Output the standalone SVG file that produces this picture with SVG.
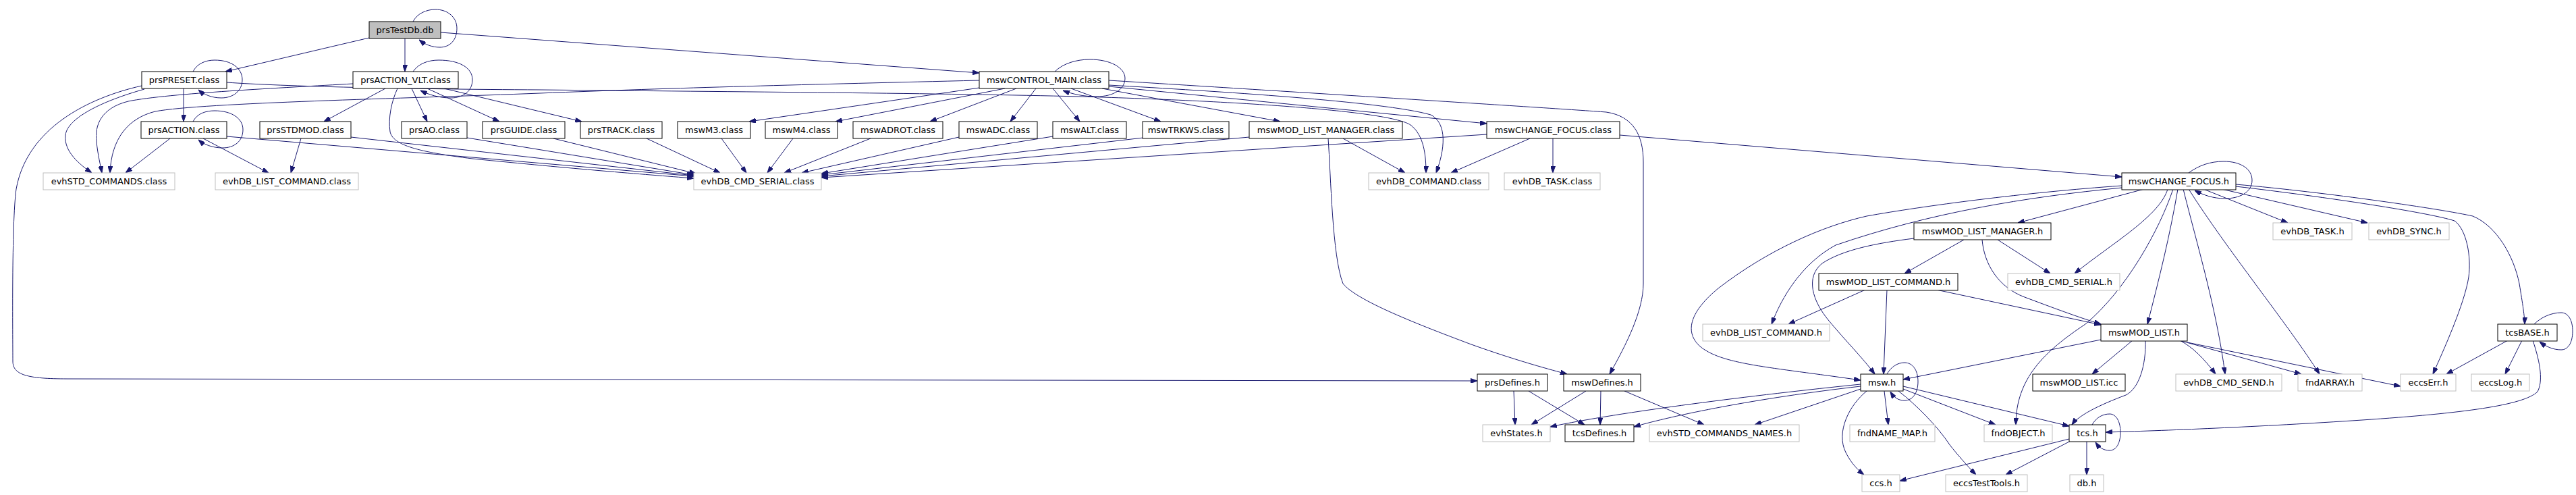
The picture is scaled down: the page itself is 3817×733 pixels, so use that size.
<svg xmlns="http://www.w3.org/2000/svg" width="3817" height="733" viewBox="0 0 3817 733">
<style>
.b{fill:#fff;stroke:#000;stroke-width:1}
.g{fill:#fff;stroke:#bfbfbf;stroke-width:1}
.r{fill:#bfbfbf;stroke:#000;stroke-width:1}
text{font-family:"DejaVu Sans",sans-serif;font-size:13px;text-anchor:middle;fill:#000}
#edges path{fill:none;stroke:#191970;stroke-width:1;marker-end:url(#a)}
</style>
<defs>
<marker id="a" markerWidth="10" markerHeight="7" refX="10" refY="3.5" orient="auto" markerUnits="userSpaceOnUse"><path d="M0,0L10,3.5L0,7z" fill="#191970" stroke="#191970" stroke-width="1"/></marker>
</defs>
<rect width="3817" height="733" fill="#fff"/>
<g id="edges">
<path d="M612,32 C618,20 632,14 645,14 C664,14 677,26 677,42 C677,60 666,70 652,70 C640,70 630,66 621,59"/>
<path d="M547,56 L334,106"/>
<path d="M600,57 L600,106"/>
<path d="M653,48 L1451,108"/>
<path d="M286,106 C292,94 305,89 318,89 C343,89 359,101 359,118 C359,135 345,145 328,145 C314,145 302,140 294,133"/>
<path d="M272,131 L272,180"/>
<path d="M214,132 C150,150 100,175 97,200 C94,225 120,245 136,256"/>
<path d="M210,127 C130,145 40,190 24,280 C17,330 19,500 19,535 C19,555 40,561 100,561 L2189,564"/>
<path d="M336,122 C420,128 600,132 800,133 C1100,136 1400,138 1600,143 C1850,150 2060,165 2090,185 C2110,200 2113,230 2113,256"/>
<path d="M612,106 C620,94 635,89 650,89 C680,89 700,100 700,118 C700,136 685,145 668,145 C650,145 635,140 623,134"/>
<path d="M523,124 C420,130 250,138 190,150 C150,160 140,185 143,210 C145,230 149,245 151,256"/>
<path d="M571,131 L480,180"/>
<path d="M610,131 L633,180"/>
<path d="M633,131 L740,180"/>
<path d="M658,131 L862,180"/>
<path d="M589,131 C580,150 575,175 578,195 C582,215 620,225 700,235 C850,250 950,258 1028,264"/>
<path d="M1563,106 C1575,94 1595,88 1615,88 C1645,88 1667,100 1667,116 C1667,132 1650,143 1625,143 C1605,143 1588,139 1575,134"/>
<path d="M1451,119 C1200,125 1000,130 800,138 C600,146 300,152 230,165 C190,175 165,205 163,256"/>
<path d="M1451,130 L1110,180"/>
<path d="M1489,131 L1238,180"/>
<path d="M1506,131 L1378,180"/>
<path d="M1535,131 L1497,180"/>
<path d="M1560,131 L1600,180"/>
<path d="M1587,131 L1720,180"/>
<path d="M1633,131 L1897,180"/>
<path d="M1643,128 L2203,183"/>
<path d="M1643,126 C1800,135 2050,150 2120,170 C2140,180 2145,210 2128,256"/>
<path d="M1643,119 C1900,135 2300,160 2380,166 C2420,172 2435,200 2435,240 L2435,420 C2435,460 2410,510 2385,554"/>
<path d="M286,180 C292,168 305,164 318,164 C343,164 360,175 360,192 C360,210 346,219 330,219 C315,219 302,214 294,207"/>
<path d="M252,205 L186,256"/>
<path d="M301,205 L398,256"/>
<path d="M336,202 L1028,261"/>
<path d="M446,205 L431,256"/>
<path d="M520,203 L1028,260"/>
<path d="M692,204 L1028,259"/>
<path d="M820,205 L1031,257"/>
<path d="M958,205 L1067,256"/>
<path d="M1069,205 L1106,256"/>
<path d="M1175,205 L1137,256"/>
<path d="M1290,205 L1162,256"/>
<path d="M1421,203 L1188,256"/>
<path d="M1560,202 L1217,257"/>
<path d="M1694,204 L1217,259"/>
<path d="M1851,203 L1217,261"/>
<path d="M2203,199 L1217,263"/>
<path d="M1990,205 L2082,256"/>
<path d="M1968,205 C1972,260 1974,380 1990,420 C2010,445 2100,480 2180,510 C2250,535 2300,548 2322,554"/>
<path d="M2267,205 L2150,256"/>
<path d="M2301,205 L2301,256"/>
<path d="M2400,200 L3144,262"/>
<path d="M3243,256 C3258,245 3275,239 3295,239 C3320,239 3337,250 3337,267 C3337,285 3318,294 3297,294 C3280,294 3265,289 3252,282"/>
<path d="M3177,280 L2990,330"/>
<path d="M3265,280 L3390,330"/>
<path d="M3292,280 L3508,330"/>
<path d="M3313,273 C3450,285 3620,310 3664,320 C3700,335 3725,380 3733,420 C3738,450 3741,470 3741,480"/>
<path d="M3313,276 C3450,292 3600,315 3637,327 C3655,340 3662,380 3658,410 C3652,450 3620,520 3605,554"/>
<path d="M3144,278 C3000,292 2860,315 2720,363 C2670,390 2640,440 2625,480"/>
<path d="M3144,275 C3000,285 2850,305 2766,320 C2700,335 2620,370 2546,427 C2506,460 2495,490 2518,512 C2550,540 2620,543 2757,563"/>
<path d="M3212,280 C3200,320 3130,360 3074,405"/>
<path d="M3227,280 C3215,350 3200,410 3182,480"/>
<path d="M3220,280 C3200,340 3150,430 3090,480 C3030,520 2987,560 2987,629"/>
<path d="M3235,280 C3255,360 3285,460 3297,554"/>
<path d="M3243,280 C3300,370 3390,480 3437,554"/>
<path d="M2910,355 L2822,405"/>
<path d="M2960,355 L3038,405"/>
<path d="M2937,355 C2940,390 2960,425 3000,440 C3040,455 3080,470 3113,480"/>
<path d="M2836,353 C2780,360 2730,370 2700,390 C2675,410 2685,445 2710,475 C2735,505 2760,530 2778,554"/>
<path d="M2764,429 L2650,480"/>
<path d="M2796,429 L2791,554"/>
<path d="M2869,429 L3113,481"/>
<path d="M3113,503 L2820,562"/>
<path d="M3160,504 L3100,554"/>
<path d="M3179,504 C3180,540 3170,575 3150,585 C3110,600 3080,615 3070,629"/>
<path d="M3230,504 C3250,515 3265,530 3283,554"/>
<path d="M3229,504 L3410,554"/>
<path d="M3241,507 L3557,572"/>
<path d="M3755,480 C3765,470 3780,463 3795,463 C3806,463 3812,475 3812,490 C3812,508 3805,518 3795,518 C3783,518 3772,513 3763,506"/>
<path d="M3716,504 L3625,554"/>
<path d="M3737,504 L3712,554"/>
<path d="M3753,504 C3765,540 3768,565 3760,580 C3740,600 3650,612 3500,622 C3350,632 3200,638 3120,640"/>
<path d="M2796,554 C2802,543 2812,537 2822,537 C2834,537 2842,548 2842,565 C2842,582 2834,593 2822,593 C2812,593 2806,588 2801,580"/>
<path d="M2757,569 C2600,585 2400,610 2297,632"/>
<path d="M2757,572 C2600,590 2480,615 2421,632"/>
<path d="M2757,576 L2600,629"/>
<path d="M2792,579 L2798,629"/>
<path d="M2820,576 L2957,629"/>
<path d="M2820,572 L3066,631"/>
<path d="M2766,579 C2740,600 2720,640 2735,670 C2745,690 2758,700 2762,703"/>
<path d="M2813,579 C2840,600 2870,630 2890,660 C2910,685 2925,700 2928,703"/>
<path d="M3100,629 C3106,618 3116,613 3126,613 C3136,613 3142,625 3142,640 C3142,656 3136,667 3126,667 C3116,667 3110,662 3105,655"/>
<path d="M3066,650 L2815,712"/>
<path d="M3068,653 L2972,703"/>
<path d="M3092,653 L3092,703"/>
<path d="M2243,579 L2245,629"/>
<path d="M2265,579 L2348,629"/>
<path d="M2350,579 L2269,629"/>
<path d="M2372,579 L2371,629"/>
<path d="M2407,579 L2525,629"/>
</g>
<g id="prsTestDb_db"><rect class="r" x="547" y="32" width="106" height="25"/><text x="600" y="49">prsTestDb.db</text></g>
<g id="prsPRESET_class"><rect class="b" x="210" y="106" width="126" height="25"/><text x="273" y="123">prsPRESET.class</text></g>
<g id="prsACTION_VLT_class"><rect class="b" x="523" y="106" width="156" height="25"/><text x="601" y="123">prsACTION_VLT.class</text></g>
<g id="mswCONTROL_MAIN_class"><rect class="b" x="1451" y="106" width="192" height="25"/><text x="1547" y="123">mswCONTROL_MAIN.class</text></g>
<g id="prsACTION_class"><rect class="b" x="209" y="180" width="127" height="25"/><text x="272.5" y="197">prsACTION.class</text></g>
<g id="prsSTDMOD_class"><rect class="b" x="385" y="180" width="135" height="25"/><text x="452.5" y="197">prsSTDMOD.class</text></g>
<g id="prsAO_class"><rect class="b" x="595" y="180" width="97" height="25"/><text x="643.5" y="197">prsAO.class</text></g>
<g id="prsGUIDE_class"><rect class="b" x="715" y="180" width="122" height="25"/><text x="776" y="197">prsGUIDE.class</text></g>
<g id="prsTRACK_class"><rect class="b" x="860" y="180" width="121" height="25"/><text x="920.5" y="197">prsTRACK.class</text></g>
<g id="mswM3_class"><rect class="b" x="1004" y="180" width="108" height="25"/><text x="1058" y="197">mswM3.class</text></g>
<g id="mswM4_class"><rect class="b" x="1134" y="180" width="107" height="25"/><text x="1187.5" y="197">mswM4.class</text></g>
<g id="mswADROT_class"><rect class="b" x="1264" y="180" width="133" height="25"/><text x="1330.5" y="197">mswADROT.class</text></g>
<g id="mswADC_class"><rect class="b" x="1421" y="180" width="116" height="25"/><text x="1479" y="197">mswADC.class</text></g>
<g id="mswALT_class"><rect class="b" x="1560" y="180" width="109" height="25"/><text x="1614.5" y="197">mswALT.class</text></g>
<g id="mswTRKWS_class"><rect class="b" x="1693" y="180" width="128" height="25"/><text x="1757" y="197">mswTRKWS.class</text></g>
<g id="mswMOD_LIST_MANAGER_class"><rect class="b" x="1851" y="180" width="227" height="25"/><text x="1964.5" y="197">mswMOD_LIST_MANAGER.class</text></g>
<g id="mswCHANGE_FOCUS_class"><rect class="b" x="2203" y="180" width="197" height="25"/><text x="2301.5" y="197">mswCHANGE_FOCUS.class</text></g>
<g id="evhSTD_COMMANDS_class"><rect class="g" x="64" y="256" width="195" height="25"/><text x="161.5" y="273">evhSTD_COMMANDS.class</text></g>
<g id="evhDB_LIST_COMMAND_class"><rect class="g" x="319" y="256" width="212" height="25"/><text x="425" y="273">evhDB_LIST_COMMAND.class</text></g>
<g id="evhDB_CMD_SERIAL_class"><rect class="g" x="1028" y="256" width="189" height="25"/><text x="1122.5" y="273">evhDB_CMD_SERIAL.class</text></g>
<g id="evhDB_COMMAND_class"><rect class="g" x="2028" y="256" width="178" height="25"/><text x="2117" y="273">evhDB_COMMAND.class</text></g>
<g id="evhDB_TASK_class"><rect class="g" x="2229" y="256" width="142" height="25"/><text x="2300" y="273">evhDB_TASK.class</text></g>
<g id="mswCHANGE_FOCUS_h"><rect class="b" x="3144" y="256" width="169" height="25"/><text x="3228.5" y="273">mswCHANGE_FOCUS.h</text></g>
<g id="mswMOD_LIST_MANAGER_h"><rect class="b" x="2836" y="330" width="203" height="25"/><text x="2937.5" y="347">mswMOD_LIST_MANAGER.h</text></g>
<g id="evhDB_TASK_h"><rect class="g" x="3368" y="330" width="117" height="25"/><text x="3426.5" y="347">evhDB_TASK.h</text></g>
<g id="evhDB_SYNC_h"><rect class="g" x="3510" y="330" width="119" height="25"/><text x="3569.5" y="347">evhDB_SYNC.h</text></g>
<g id="mswMOD_LIST_COMMAND_h"><rect class="b" x="2695" y="405" width="206" height="25"/><text x="2798" y="422">mswMOD_LIST_COMMAND.h</text></g>
<g id="evhDB_CMD_SERIAL_h"><rect class="g" x="2975" y="405" width="166" height="25"/><text x="3058" y="422">evhDB_CMD_SERIAL.h</text></g>
<g id="evhDB_LIST_COMMAND_h"><rect class="g" x="2523" y="480" width="188" height="25"/><text x="2617" y="497">evhDB_LIST_COMMAND.h</text></g>
<g id="mswMOD_LIST_h"><rect class="b" x="3113" y="480" width="128" height="25"/><text x="3177" y="497">mswMOD_LIST.h</text></g>
<g id="tcsBASE_h"><rect class="b" x="3701" y="480" width="88" height="25"/><text x="3745" y="497">tcsBASE.h</text></g>
<g id="prsDefines_h"><rect class="b" x="2189" y="554" width="104" height="25"/><text x="2241" y="571">prsDefines.h</text></g>
<g id="mswDefines_h"><rect class="b" x="2317" y="554" width="114" height="25"/><text x="2374" y="571">mswDefines.h</text></g>
<g id="msw_h"><rect class="b" x="2757" y="554" width="63" height="25"/><text x="2788.5" y="571">msw.h</text></g>
<g id="mswMOD_LIST_icc"><rect class="b" x="3012" y="554" width="137" height="25"/><text x="3080.5" y="571">mswMOD_LIST.icc</text></g>
<g id="evhDB_CMD_SEND_h"><rect class="g" x="3224" y="554" width="157" height="25"/><text x="3302.5" y="571">evhDB_CMD_SEND.h</text></g>
<g id="fndARRAY_h"><rect class="g" x="3405" y="554" width="95" height="25"/><text x="3452.5" y="571">fndARRAY.h</text></g>
<g id="eccsErr_h"><rect class="g" x="3557" y="554" width="82" height="25"/><text x="3598" y="571">eccsErr.h</text></g>
<g id="eccsLog_h"><rect class="g" x="3662" y="554" width="86" height="25"/><text x="3705" y="571">eccsLog.h</text></g>
<g id="evhStates_h"><rect class="g" x="2197" y="629" width="100" height="25"/><text x="2247" y="646">evhStates.h</text></g>
<g id="tcsDefines_h"><rect class="b" x="2319" y="629" width="102" height="25"/><text x="2370" y="646">tcsDefines.h</text></g>
<g id="evhSTD_COMMANDS_NAMES_h"><rect class="g" x="2444" y="629" width="222" height="25"/><text x="2555" y="646">evhSTD_COMMANDS_NAMES.h</text></g>
<g id="fndNAME_MAP_h"><rect class="g" x="2741" y="629" width="126" height="25"/><text x="2804" y="646">fndNAME_MAP.h</text></g>
<g id="fndOBJECT_h"><rect class="g" x="2940" y="629" width="101" height="25"/><text x="2990.5" y="646">fndOBJECT.h</text></g>
<g id="tcs_h"><rect class="b" x="3066" y="629" width="54" height="25"/><text x="3093" y="646">tcs.h</text></g>
<g id="ccs_h"><rect class="g" x="2759" y="703" width="56" height="25"/><text x="2787" y="720">ccs.h</text></g>
<g id="eccsTestTools_h"><rect class="g" x="2883" y="703" width="121" height="25"/><text x="2943.5" y="720">eccsTestTools.h</text></g>
<g id="db_h"><rect class="g" x="3067" y="703" width="50" height="25"/><text x="3092" y="720">db.h</text></g>
</svg>
